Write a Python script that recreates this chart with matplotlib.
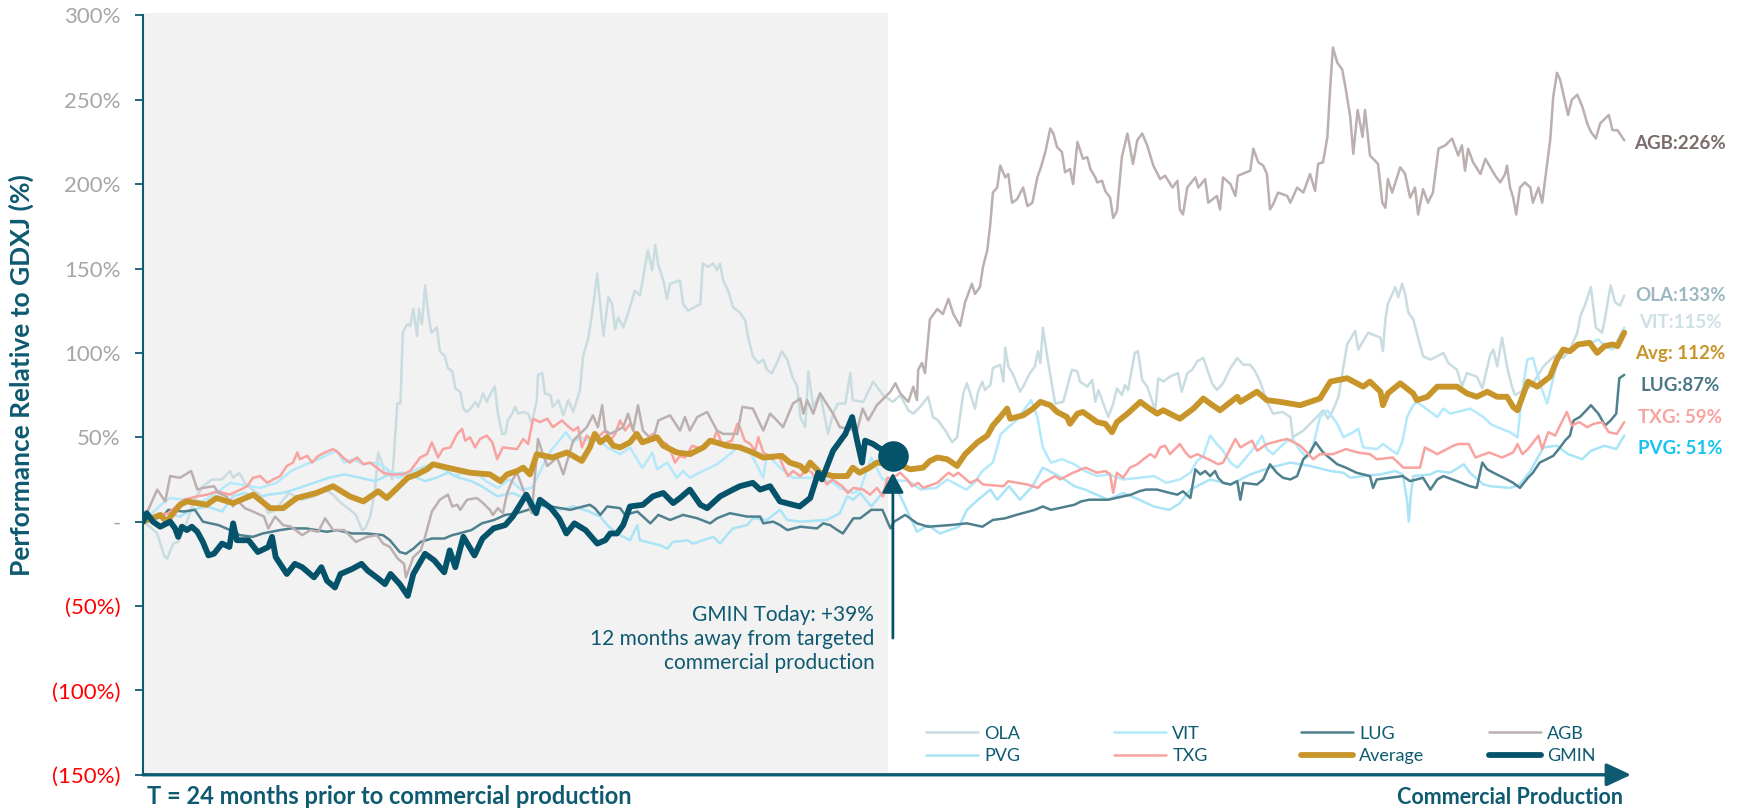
import matplotlib.pyplot as plt

plt.rcParams['font.family'] = ['Lato', 'DejaVu Sans']

# (months since T-24, performance relative to GDXJ in %)
ola = [(0,0),(0.11,-3),(0.23,-7),(0.34,-20),(0.39,-22),(0.49,-13),(0.57,-12),(0.66,-5),(0.84,13),(0.97,21),(1.12,25),(1.28,25),(1.41,30),(1.46,26),(1.56,29),(1.65,23),(1.77,19),(1.90,16),(2.03,5),(2.16,7),(2.27,13),(2.37,17),(2.46,15),(2.58,13),(2.77,15),(2.95,19),(3.08,16),(3.21,11),(3.32,8),(3.45,4),(3.55,-5),(3.60,-4),(3.68,3),(3.76,19),(3.81,41),(3.87,35),(3.92,27),(3.97,30),(4.04,25),(4.12,70),(4.17,70),(4.21,112),(4.28,117),(4.33,116),(4.38,126),(4.44,110),(4.47,126),(4.52,117),(4.57,140),(4.62,124),(4.67,112),(4.76,115),(4.81,101),(4.89,98),(4.94,91),(5.01,89),(5.06,79),(5.14,77),(5.19,67),(5.25,65),(5.33,68),(5.38,71),(5.43,68),(5.51,76),(5.57,71),(5.62,75),(5.70,80),(5.75,64),(5.82,52),(5.87,52),(5.91,60),(5.98,64),(6.03,68),(6.08,64),(6.16,65),(6.24,64),(6.30,58),(6.38,72),(6.40,87),(6.47,88),(6.51,76),(6.60,75),(6.64,68),(6.73,72),(6.81,63),(6.89,72),(6.97,65),(7.08,78),(7.13,98),(7.21,108),(7.28,124),(7.36,147),(7.41,128),(7.46,110),(7.54,133),(7.60,129),(7.65,114),(7.70,121),(7.78,115),(7.89,127),(7.97,137),(8.05,134),(8.10,144),(8.18,161),(8.25,149),(8.30,164),(8.35,152),(8.43,143),(8.49,132),(8.54,141),(8.70,143),(8.75,129),(8.83,125),(9.03,129),(9.07,153),(9.16,151),(9.24,153),(9.30,149),(9.35,153),(9.40,143),(9.48,137),(9.56,127),(9.67,124),(9.76,119),(9.80,110),(9.88,98),(9.97,94),(10.05,96),(10.11,90),(10.19,88),(10.27,94),(10.35,101),(10.44,96),(10.52,86),(10.60,80),(10.65,62),(10.73,56),(10.78,89),(10.86,68),(10.97,76),(11.10,52),(11.18,64),(11.26,70),(11.38,70),(11.46,88),(11.50,72),(11.67,71),(11.83,83),(11.91,79),(11.99,75),(12.15,71),(12.27,75),(12.40,66),(12.48,64),(12.59,68),(12.72,74),(12.80,62),(12.88,60),(13.00,54),(13.11,47),(13.19,50),(13.29,76),(13.35,82),(13.48,67),(13.53,77),(13.60,83),(13.64,78),(13.73,81),(13.77,91),(13.89,93),(13.94,83),(13.97,103),(14.02,92),(14.10,87),(14.21,77),(14.26,80),(14.37,88),(14.45,92),(14.50,101),(14.54,94),(14.58,115),(14.65,98),(14.70,87),(14.78,70),(14.91,71),(15.05,90),(15.14,89),(15.18,83),(15.30,80),(15.38,84),(15.43,71),(15.48,78),(15.64,62),(15.72,70),(15.78,79),(15.86,75),(15.91,81),(15.96,78),(16.07,100),(16.12,101),(16.19,84),(16.27,80),(16.40,66),(16.45,85),(16.53,83),(16.64,86),(16.77,88),(16.83,77),(16.92,88),(17.00,90),(17.08,95),(17.18,97),(17.32,82),(17.40,78),(17.50,82),(17.62,91),(17.73,97),(17.83,93),(17.94,93),(18.02,89),(18.10,83),(18.21,71),(18.31,64),(18.46,65),(18.59,62),(18.63,50),(18.80,54),(18.91,58),(18.99,61),(19.12,66),(19.20,61),(19.28,66),(19.37,74),(19.45,92),(19.51,105),(19.64,113),(19.69,102),(19.77,107),(19.85,112),(20.05,109),(20.09,101),(20.13,120),(20.17,129),(20.29,139),(20.34,133),(20.40,141),(20.45,135),(20.50,124),(20.58,120),(20.69,105),(20.74,98),(20.86,96),(21.07,100),(21.15,94),(21.29,90),(21.37,80),(21.45,88),(21.61,86),(21.70,79),(21.83,99),(21.88,102),(21.94,92),(22.02,109),(22.10,92),(22.18,80),(22.23,75),(22.48,80),(22.59,86),(22.69,92),(22.80,96),(22.91,99),(23.01,97),(23.12,102),(23.24,112),(23.29,122),(23.37,129),(23.46,139),(23.54,115),(23.64,112),(23.68,119),(23.78,140),(23.85,130),(23.93,128),(24.00,134)]

vit = [(0,0),(0.32,11),(0.44,14),(0.66,13),(0.97,12),(1.22,18),(1.41,23),(1.90,20),(2.16,23),(2.40,30),(2.64,34),(2.84,37),(3.01,40),(3.14,42),(3.26,35),(3.39,37),(3.58,34),(3.76,35),(3.89,33),(4.00,30),(4.13,26),(4.26,28),(4.38,30),(4.50,32),(4.68,34),(4.88,31),(5.06,27),(5.25,30),(5.43,28),(5.56,24),(5.75,20),(5.93,25),(6.13,19),(6.30,20),(6.48,33),(6.61,42),(6.74,48),(6.85,53),(6.97,47),(7.08,50),(7.24,48),(7.41,48),(7.52,44),(7.73,40),(7.89,44),(8.09,32),(8.17,36),(8.25,41),(8.33,31),(8.49,35),(8.65,26),(8.75,30),(8.86,26),(9.07,30),(9.30,34),(9.51,40),(9.63,44),(9.84,41),(10.05,26),(10.11,40),(10.32,32),(10.53,26),(10.76,26),(10.97,26),(11.18,23),(11.29,20),(11.51,17),(11.62,19),(11.80,38),(11.98,25),(12.41,24),(12.60,19),(12.85,20),(13.03,25),(13.34,19),(13.47,23),(13.60,30),(13.77,35),(13.90,52),(14.02,56),(14.15,60),(14.39,72),(14.49,62),(14.58,44),(14.71,35),(14.89,37),(15.09,34),(15.26,30),(15.46,27),(15.64,28),(15.88,25),(16.14,26),(16.38,27),(16.58,23),(16.80,25),(16.97,29),(17.08,36),(17.18,39),(17.29,51),(17.40,46),(17.50,42),(17.62,35),(17.73,32),(17.83,36),(18.05,46),(18.13,51),(18.21,43),(18.31,40),(18.42,44),(18.54,48),(18.63,49),(18.75,42),(18.86,38),(18.96,45),(19.07,62),(19.19,66),(19.35,58),(19.45,50),(19.61,53),(19.69,55),(19.77,44),(19.99,43),(20.09,46),(20.32,40),(20.41,48),(20.48,62),(20.58,69),(20.64,71),(20.86,65),(20.97,62),(21.07,67),(21.18,64),(21.40,66),(21.50,67),(21.72,62),(21.83,58),(21.94,56),(22.15,53),(22.27,50),(22.35,78),(22.43,96),(22.52,97),(22.59,88),(22.67,78),(22.75,70),(22.91,94),(23.01,100),(23.15,102),(23.28,106),(23.40,105),(23.58,108),(23.69,104),(23.81,102),(23.93,110),(24.00,115)]

pvg = [(0,0),(0.36,5),(0.60,3),(0.78,7),(1.04,9),(1.28,6),(1.46,15),(1.65,17),(1.83,14),(2.03,16),(2.27,17),(2.53,20),(2.77,23),(3.01,26),(3.26,28),(3.52,26),(3.76,24),(4.00,28),(4.20,29),(4.38,27),(4.57,24),(4.75,26),(4.94,29),(5.12,26),(5.32,24),(5.49,21),(5.74,15),(5.99,17),(6.24,13),(6.48,9),(6.74,7),(6.98,9),(7.23,6),(7.41,3),(7.52,-2),(7.68,-7),(7.89,-11),(8.01,-2),(8.05,-11),(8.38,-14),(8.49,-16),(8.59,-12),(8.82,-11),(8.91,-13),(9.24,-9),(9.35,-13),(9.46,-8),(9.56,-4),(9.79,-2),(9.88,2),(10.11,1),(10.32,7),(10.44,1),(10.65,0),(11.08,1),(11.29,5),(11.41,15),(11.51,13),(11.62,17),(11.80,9),(11.98,17),(12.17,23),(12.35,9),(12.54,-6),(12.72,-2),(12.91,-7),(13.22,-3),(13.35,7),(13.53,13),(13.73,19),(13.84,13),(14.03,21),(14.21,13),(14.41,21),(14.58,32),(14.89,26),(15.09,21),(15.26,19),(15.64,13),(15.88,17),(16.14,13),(16.38,9),(16.63,7),(16.80,11),(16.97,19),(17.29,25),(17.62,22),(17.94,28),(18.26,32),(18.59,35),(18.91,33),(19.24,30),(19.45,29),(19.56,26),(19.77,27),(20.05,28),(20.29,30),(20.41,28),(20.48,13),(20.51,0),(20.54,15),(20.58,27),(20.86,28),(20.97,30),(21.18,29),(21.40,34),(21.50,29),(21.72,22),(21.83,21),(22.15,20),(22.31,22),(22.48,30),(22.69,44),(22.91,45),(23.09,40),(23.32,37),(23.46,42),(23.68,45),(23.87,43),(24.00,51)]

lug = [(0,0),(0.32,3),(0.41,7),(0.66,6),(0.84,7),(0.97,0),(1.09,-1),(1.22,-2),(1.41,-5),(1.57,-8),(1.78,-9),(1.94,-7),(2.22,-5),(2.40,-4),(2.64,-4),(2.98,-6),(3.14,-5),(3.39,-7),(3.63,-7),(3.89,-8),(4.00,-11),(4.16,-18),(4.26,-19),(4.38,-16),(4.50,-12),(4.68,-10),(4.88,-10),(5.01,-8),(5.12,-7),(5.32,-5),(5.49,-1),(5.69,1),(5.87,4),(6.06,5),(6.24,7),(6.43,10),(6.61,9),(6.76,8),(6.92,7),(7.24,10),(7.32,8),(7.41,4),(7.52,9),(7.73,8),(7.81,4),(8.01,6),(8.10,3),(8.22,-1),(8.35,4),(8.54,1),(8.75,4),(8.98,2),(9.19,-1),(9.30,2),(9.51,5),(9.79,3),(10.00,3),(10.05,-1),(10.21,0),(10.32,-2),(10.44,-5),(10.65,-3),(10.92,-4),(11.02,-1),(11.13,-2),(11.25,-5),(11.34,-7),(11.51,2),(11.62,2),(11.80,7),(11.98,7),(12.11,-4),(12.17,0),(12.35,4),(12.54,-1),(12.72,-3),(13.09,-2),(13.35,-1),(13.60,-3),(13.77,1),(13.97,2),(14.15,4),(14.45,7),(14.58,9),(14.71,7),(15.09,10),(15.20,12),(15.33,13),(15.64,13),(15.88,15),(16.01,16),(16.14,18),(16.25,19),(16.43,19),(16.64,17),(16.76,16),(16.85,18),(16.97,14),(17.05,31),(17.13,28),(17.21,30),(17.29,27),(17.37,30),(17.42,26),(17.50,23),(17.62,22),(17.73,24),(17.78,13),(17.83,23),(18.05,22),(18.15,25),(18.26,34),(18.37,29),(18.47,26),(18.59,25),(18.70,27),(18.80,37),(18.91,41),(19.00,47),(19.12,41),(19.25,37),(19.35,34),(19.49,32),(19.66,29),(19.88,27),(19.93,20),(19.99,25),(20.20,26),(20.41,27),(20.53,24),(20.74,26),(20.86,19),(20.97,25),(21.07,27),(21.29,24),(21.50,21),(21.61,20),(21.70,35),(21.78,31),(21.88,29),(22.10,25),(22.20,23),(22.31,20),(22.44,26),(22.52,29),(22.63,35),(22.85,39),(22.96,44),(23.04,48),(23.12,51),(23.18,60),(23.28,62),(23.36,65),(23.46,69),(23.58,64),(23.69,57),(23.78,60),(23.87,64),(23.92,85),(24.00,87)]

agb = [(0,0),(0.06,5),(0.23,19),(0.36,12),(0.44,27),(0.60,26),(0.78,30),(0.88,19),(0.97,20),(1.15,21),(1.22,17),(1.35,15),(1.46,9),(1.52,13),(1.65,8),(1.78,6),(1.96,3),(2.03,-4),(2.14,3),(2.27,-2),(2.40,-3),(2.58,-8),(2.71,-5),(2.84,-6),(2.95,2),(3.08,-5),(3.26,-5),(3.45,-12),(3.63,-9),(3.79,-8),(3.89,-13),(4.00,-15),(4.13,-22),(4.23,-25),(4.26,-33),(4.38,-21),(4.50,-17),(4.57,-9),(4.68,6),(4.81,13),(4.94,16),(5.01,9),(5.09,10),(5.14,7),(5.25,13),(5.41,14),(5.51,11),(5.62,7),(5.67,4),(5.75,8),(5.83,5),(5.90,17),(5.99,25),(6.06,29),(6.16,19),(6.30,5),(6.40,49),(6.47,41),(6.55,33),(6.71,38),(6.81,28),(6.97,48),(7.08,52),(7.19,56),(7.29,63),(7.37,56),(7.44,69),(7.49,54),(7.57,52),(7.78,56),(7.86,64),(7.94,54),(8.02,69),(8.10,54),(8.26,48),(8.35,60),(8.54,63),(8.70,54),(8.78,62),(8.86,54),(8.98,62),(9.14,65),(9.30,54),(9.40,52),(9.63,52),(9.71,68),(9.88,67),(10.05,54),(10.16,64),(10.27,60),(10.37,56),(10.53,70),(10.65,73),(10.70,64),(10.76,72),(10.86,64),(10.97,76),(11.18,64),(11.29,56),(11.57,54),(11.66,67),(11.75,60),(11.89,69),(12.11,77),(12.19,82),(12.27,76),(12.40,71),(12.48,80),(12.54,72),(12.56,90),(12.62,94),(12.67,88),(12.75,120),(12.87,126),(12.96,123),(13.05,132),(13.13,123),(13.24,116),(13.32,130),(13.43,141),(13.48,135),(13.56,139),(13.61,151),(13.68,161),(13.73,177),(13.77,195),(13.84,198),(13.89,211),(13.97,204),(14.02,206),(14.08,189),(14.16,191),(14.26,198),(14.33,187),(14.41,189),(14.49,204),(14.54,209),(14.62,219),(14.70,233),(14.75,230),(14.81,222),(14.89,219),(14.94,207),(15.02,209),(15.07,200),(15.14,225),(15.23,215),(15.30,216),(15.35,209),(15.43,204),(15.46,201),(15.54,202),(15.59,196),(15.67,192),(15.72,180),(15.78,184),(15.86,216),(15.95,230),(16.04,212),(16.11,226),(16.19,230),(16.27,223),(16.37,211),(16.48,203),(16.56,205),(16.68,198),(16.76,202),(16.80,185),(16.85,182),(16.92,198),(17.05,204),(17.10,198),(17.21,203),(17.26,189),(17.40,193),(17.45,185),(17.50,204),(17.62,200),(17.70,193),(17.74,205),(17.94,208),(17.99,221),(18.07,213),(18.15,211),(18.21,206),(18.26,185),(18.31,188),(18.39,195),(18.54,193),(18.59,189),(18.70,198),(18.80,195),(18.86,201),(18.91,206),(18.99,196),(19.04,212),(19.12,213),(19.19,228),(19.24,260),(19.28,281),(19.35,272),(19.43,268),(19.48,258),(19.56,240),(19.61,218),(19.68,244),(19.76,228),(19.80,244),(19.88,217),(20.01,212),(20.08,189),(20.13,186),(20.17,203),(20.24,195),(20.37,210),(20.45,206),(20.53,192),(20.61,198),(20.66,182),(20.74,197),(20.82,189),(20.90,195),(20.99,221),(21.10,223),(21.21,227),(21.31,217),(21.37,223),(21.42,208),(21.47,221),(21.55,213),(21.67,206),(21.75,215),(21.91,205),(21.99,201),(22.07,206),(22.10,211),(22.15,198),(22.20,192),(22.25,182),(22.31,198),(22.39,201),(22.48,198),(22.52,189),(22.61,198),(22.67,189),(22.75,212),(22.80,226),(22.85,252),(22.91,266),(22.96,262),(23.09,241),(23.15,250),(23.24,253),(23.32,246),(23.40,236),(23.46,231),(23.54,227),(23.61,236),(23.75,241),(23.81,232),(23.89,232),(24.00,226)]

txg = [(0,0),(0.06,2),(0.41,5),(0.66,13),(0.88,15),(1.04,16),(1.20,18),(1.41,16),(1.69,21),(1.78,26),(1.90,27),(2.01,23),(2.11,25),(2.22,27),(2.33,33),(2.43,35),(2.50,41),(2.54,37),(2.66,39),(2.74,35),(2.84,39),(2.95,41),(3.08,43),(3.16,41),(3.24,38),(3.35,35),(3.47,38),(3.57,34),(3.68,35),(3.79,32),(3.89,29),(4.00,28),(4.21,28),(4.33,30),(4.49,38),(4.60,40),(4.68,47),(4.78,38),(4.86,43),(4.98,44),(5.09,52),(5.17,55),(5.22,48),(5.30,50),(5.38,44),(5.46,49),(5.57,51),(5.66,47),(5.74,37),(5.79,41),(5.83,44),(6.06,43),(6.16,49),(6.24,46),(6.32,61),(6.43,59),(6.55,61),(6.64,56),(6.79,60),(6.87,57),(6.97,54),(7.05,56),(7.11,44),(7.19,51),(7.28,48),(7.37,50),(7.49,54),(7.57,48),(7.65,52),(7.73,60),(7.81,54),(7.89,58),(8.02,49),(8.10,46),(8.26,52),(8.38,48),(8.49,46),(8.57,40),(8.62,35),(8.70,39),(8.78,38),(8.90,45),(9.06,43),(9.24,48),(9.30,54),(9.38,46),(9.54,48),(9.63,58),(9.67,56),(9.75,48),(9.84,46),(9.92,42),(9.97,50),(10.05,41),(10.21,37),(10.29,40),(10.37,33),(10.45,27),(10.53,30),(10.65,27),(10.76,31),(10.84,29),(10.92,24),(11.00,27),(11.08,22),(11.17,25),(11.33,21),(11.42,17),(11.51,20),(11.67,19),(11.78,16),(11.89,20),(11.99,15),(12.06,26),(12.15,26),(12.27,29),(12.38,25),(12.46,21),(12.56,23),(12.64,20),(12.87,23),(12.96,26),(13.05,29),(13.13,27),(13.21,29),(13.40,23),(13.52,25),(13.61,22),(13.94,21),(14.02,24),(14.33,22),(14.50,20),(14.58,23),(14.78,27),(14.86,25),(15.07,29),(15.27,32),(15.46,29),(15.59,30),(15.67,28),(15.72,17),(15.78,29),(15.88,26),(15.99,32),(16.11,34),(16.21,37),(16.32,40),(16.40,38),(16.48,44),(16.56,45),(16.64,40),(16.80,46),(16.89,41),(16.97,38),(17.08,40),(17.26,37),(17.42,34),(17.50,35),(17.70,49),(17.78,44),(17.97,48),(18.05,42),(18.21,46),(18.42,48),(18.54,49),(18.75,45),(18.86,41),(18.96,37),(19.07,40),(19.28,40),(19.49,43),(19.68,41),(19.88,40),(19.99,37),(20.25,38),(20.42,32),(20.69,32),(20.77,44),(20.97,40),(21.23,45),(21.31,46),(21.48,46),(21.59,38),(21.81,41),(22.02,38),(22.20,41),(22.27,46),(22.35,40),(22.44,43),(22.61,51),(22.67,43),(22.77,53),(22.88,51),(22.96,57),(23.07,65),(23.15,57),(23.27,59),(23.40,56),(23.51,58),(23.64,59),(23.75,53),(23.88,52),(24.00,59)]

average = [(0,0),(0.28,4),(0.38,0),(0.60,10),(0.71,12),(1.03,10),(1.19,14),(1.46,11),(1.79,16),(2.06,8),(2.27,8),(2.49,14),(2.81,17),(3.08,21),(3.35,15),(3.57,12),(3.81,18),(3.95,14),(4.12,20),(4.29,26),(4.44,28),(4.60,31),(4.70,34),(4.93,32),(5.30,29),(5.62,28),(5.79,24),(5.90,28),(6.06,30),(6.16,32),(6.27,28),(6.38,40),(6.63,38),(6.87,41),(7.11,36),(7.24,44),(7.32,52),(7.41,47),(7.52,50),(7.62,45),(7.73,44),(7.89,47),(8.00,52),(8.09,47),(8.33,50),(8.43,45),(8.65,41),(8.86,40),(9.08,44),(9.19,48),(9.46,45),(9.67,44),(9.88,41),(10.05,38),(10.35,39),(10.48,35),(10.65,33),(10.73,30),(10.81,35),(10.97,29),(11.18,27),(11.41,27),(11.50,32),(11.61,29),(11.77,32),(11.89,35),(12.11,34),(12.31,33),(12.43,31),(12.64,32),(12.75,36),(12.87,38),(13.03,37),(13.19,33),(13.32,40),(13.52,47),(13.68,51),(13.77,57),(13.89,62),(14.00,67),(14.05,61),(14.26,63),(14.42,67),(14.54,71),(14.70,69),(14.81,65),(14.97,62),(15.02,58),(15.14,64),(15.23,65),(15.46,59),(15.59,58),(15.70,53),(15.78,59),(15.95,64),(16.16,71),(16.27,68),(16.43,64),(16.53,66),(16.69,63),(16.80,61),(17.02,67),(17.18,73),(17.29,70),(17.45,66),(17.73,74),(17.78,71),(18.05,77),(18.21,72),(18.42,71),(18.75,69),(18.91,71),(19.07,73),(19.24,83),(19.51,85),(19.77,80),(19.88,83),(20.05,77),(20.09,69),(20.17,76),(20.37,82),(20.58,76),(20.64,72),(20.81,74),(20.97,80),(21.29,80),(21.45,76),(21.61,74),(21.78,77),(21.94,74),(22.10,74),(22.20,68),(22.27,66),(22.35,74),(22.44,83),(22.59,80),(22.80,86),(22.91,96),(23.01,102),(23.12,101),(23.25,105),(23.44,106),(23.56,100),(23.68,104),(23.81,105),(23.89,104),(24.00,112)]

gmin = [(0,0),(0.06,5),(0.16,0),(0.28,-3),(0.44,0),(0.52,-4),(0.57,-9),(0.63,-3),(0.71,-5),(0.79,-3),(0.88,-6),(0.97,-12),(1.06,-20),(1.15,-19),(1.28,-13),(1.40,-15),(1.46,-1),(1.52,-11),(1.71,-11),(1.86,-18),(2.03,-15),(2.09,-9),(2.15,-21),(2.33,-31),(2.46,-25),(2.58,-27),(2.77,-33),(2.89,-27),(2.98,-35),(3.11,-39),(3.20,-31),(3.39,-28),(3.54,-25),(3.64,-29),(3.82,-34),(3.92,-37),(4.01,-31),(4.16,-37),(4.29,-44),(4.38,-31),(4.57,-19),(4.72,-23),(4.88,-30),(4.97,-17),(5.06,-27),(5.19,-9),(5.37,-20),(5.50,-10),(5.68,-4),(5.87,-2),(5.99,3),(6.21,16),(6.37,5),(6.43,13),(6.61,8),(6.74,2),(6.86,-7),(6.99,-1),(7.17,-5),(7.36,-13),(7.49,-11),(7.57,-7),(7.68,-7),(7.78,-2),(7.89,9),(8.10,10),(8.26,15),(8.43,17),(8.59,11),(8.70,14),(8.86,19),(9.03,10),(9.14,8),(9.35,15),(9.56,19),(9.67,21),(9.88,23),(10.00,19),(10.16,21),(10.32,12),(10.53,10),(10.64,9),(10.81,14),(10.94,29),(11.00,25),(11.18,42),(11.38,52),(11.49,62),(11.57,48),(11.65,35),(11.70,48),(11.83,46),(11.91,44),(12.15,39)]

end_labels = ['AGB:226%', 'OLA:133%', 'VIT:115%', 'Avg: 112%', 'LUG:87%', 'TXG: 59%', 'PVG: 51%']
yticks = [-150, -100, -50, 0, 50, 100, 150, 200, 250, 300]
ytick_labels = ['(150%)', '(100%)', '(50%)', '-', '50%', '100%', '150%', '200%', '250%', '300%']

TEAL = '#0e5a70'

fig = plt.figure(figsize=(17.42, 8.09), dpi=100)
ax = fig.add_axes([0.0821, 0.0423, 0.8542, 0.942])
ax.set_xlim(0, 24.11)
ax.set_ylim(-150, 301.6)

# period before "today" is shaded
ax.axvspan(0, 12.07, color='#f2f2f2', lw=0, zorder=0)

styles = {
    'OLA': ('#c9dce1', 1.8),
    'VIT': ('#b3e9fb', 1.8),
    'LUG': ('#4f808d', 1.8),
    'AGB': ('#bcafaf', 1.8),
    'PVG': ('#a9e4f7', 1.8),
    'TXG': ('#f9a3a0', 1.8),
    'Average': ('#c8952a', 4.2),
    'GMIN': ('#04536a', 4.2),
}
data = {'OLA': ola, 'VIT': vit, 'LUG': lug, 'AGB': agb, 'PVG': pvg,
        'TXG': txg, 'Average': average, 'GMIN': gmin}

handles = {}
for i, name in enumerate(['OLA', 'VIT', 'PVG', 'LUG', 'TXG', 'AGB', 'Average', 'GMIN']):
    color, lw = styles[name]
    xs = [p[0] for p in data[name]]
    ys = [p[1] for p in data[name]]
    line, = ax.plot(xs, ys, color=color, lw=lw, zorder=2 + i,
                    solid_joinstyle='round', solid_capstyle='round', label=name)
    handles[name] = line

# today marker
ax.plot(gmin[-1][0], gmin[-1][1], 'o', ms=21, color=styles['GMIN'][0], zorder=20)
ax.annotate('', xy=(gmin[-1][0], 29), xytext=(gmin[-1][0], -69),
            arrowprops=dict(arrowstyle='-|>,head_length=0.55,head_width=0.3',
                            color=styles['GMIN'][0], lw=2, mutation_scale=22,
                            shrinkA=0, shrinkB=0), zorder=20)
ax.text(11.85, -69.7, 'GMIN Today: +39%\n12 months away from targeted\ncommercial production',
        ha='right', va='center', fontsize=15, color=TEAL, linespacing=1.25)

# end-of-series labels
label_colors = ['#7b6b6b', '#9cb7c1', '#cde0e6', '#c8952a', '#4b7886', '#f7a3a0', '#19c3f0']
label_y = [224, 134, 118, 99.5, 80.5, 62, 43.5]
for txt, c, y in zip(end_labels, label_colors, label_y):
    ax.text(24.91, y, txt, ha='center', va='center', fontsize=13.5,
            fontweight='bold', color=c, clip_on=False)

# axes styling
for s in ['top', 'right', 'bottom']:
    ax.spines[s].set_visible(False)
ax.spines['left'].set_color(TEAL)
ax.spines['left'].set_linewidth(1.5)
ax.spines['left'].set_bounds(-150, 300)
ax.set_xticks([])
ax.set_yticks(yticks)
ax.set_yticklabels(ytick_labels)
ax.tick_params(axis='y', direction='out', length=6, width=1.3, color=TEAL,
               pad=10, labelsize=16)
for lab, v in zip(ax.get_yticklabels(), yticks):
    lab.set_color('#ff0000' if v < 0 else '#a6a6a6')
ax.set_ylabel('Performance Relative to GDXJ (%)', fontsize=19, fontweight='bold', color=TEAL)
ax.yaxis.set_label_coords(-0.0733, 0.5246)

# x axis drawn as an arrow
ax.annotate('', xy=(1, 0), xycoords='axes fraction', xytext=(0, 0),
            arrowprops=dict(arrowstyle='-|>,head_length=0.75,head_width=0.35',
                            color=TEAL, lw=2.4, mutation_scale=20, shrinkA=0, shrinkB=0),
            annotation_clip=False)
fig.text(147 / 1742, 1 - 797 / 809, 'T = 24 months prior to commercial production',
         fontsize=17, fontweight='bold', color=TEAL, ha='left', va='center')
fig.text(1623 / 1742, 1 - 797 / 809, 'Commercial Production',
         fontsize=15.5, fontweight='bold', color=TEAL, ha='right', va='center')

# legend: four columns of two rows
columns = [('OLA', 'PVG'), ('VIT', 'TXG'), ('LUG', 'Average'), ('AGB', 'GMIN')]
col_x = [926, 1114, 1301, 1488.5]
for names_col, x in zip(columns, col_x):
    fig.legend([handles[n] for n in names_col], names_col, loc='center left',
               bbox_to_anchor=(x / 1742, 1 - 744.7 / 809), frameon=False,
               fontsize=13, handlelength=2.9, handletextpad=0.33,
               labelspacing=0.35, borderpad=0, borderaxespad=0, labelcolor=TEAL)

fig.savefig('out.png', dpi=100)
